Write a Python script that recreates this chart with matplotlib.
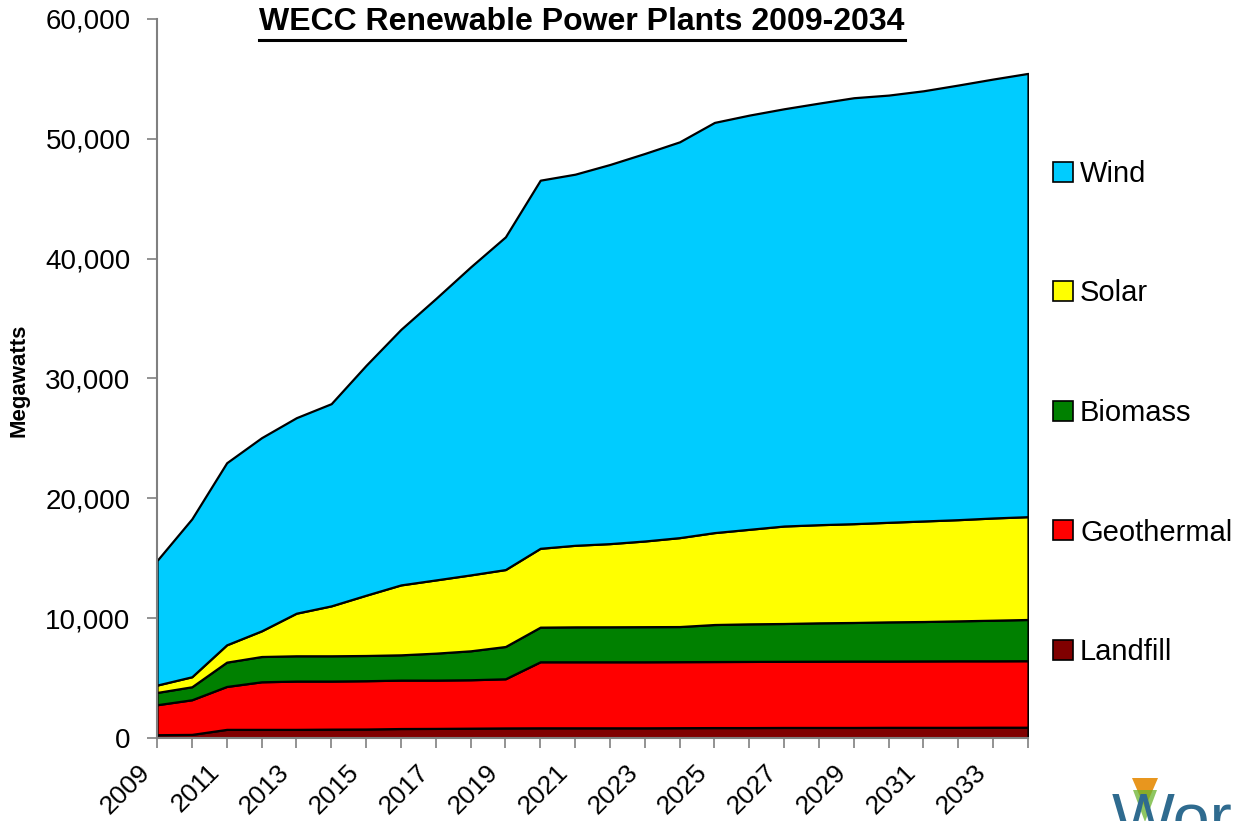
import matplotlib
matplotlib.use('Agg')
import matplotlib.pyplot as plt
from matplotlib.patches import Patch, Polygon
from matplotlib.lines import Line2D
from matplotlib.ticker import StrMethodFormatter
from matplotlib.transforms import ScaledTranslation

plt.rcParams['font.family'] = ['Liberation Sans', 'DejaVu Sans']

years = list(range(2009, 2035))

# megawatts per category
landfill = [275, 300, 720, 720, 720, 740, 750, 790, 800, 820, 840, 850, 850,
            850, 850, 860, 870, 870, 880, 880, 880, 890, 890, 890, 900, 900]
geothermal = [2500, 2890, 3580, 3970, 4030, 4010, 4030, 4040, 4030, 4040, 4100, 5510, 5510,
              5510, 5510, 5510, 5510, 5520, 5520, 5530, 5540, 5530, 5540, 5550, 5540, 5550]
biomass = [1025, 1085, 2030, 2110, 2110, 2110, 2105, 2110, 2250, 2415, 2695, 2890, 2915,
           2920, 2930, 2930, 3090, 3135, 3155, 3200, 3220, 3270, 3290, 3335, 3390, 3440]
solar = [615, 835, 1445, 2140, 3555, 4165, 5030, 5835, 6110, 6335, 6420, 6580, 6805,
         6940, 7150, 7420, 7670, 7890, 8135, 8190, 8245, 8310, 8390, 8445, 8530, 8580]
wind = [10395, 13180, 15195, 16120, 16315, 16875, 19185, 21325, 23480, 25700, 27765, 30720, 30970,
        31640, 32340, 33030, 34230, 34565, 34820, 35180, 35545, 35650, 35900, 36270, 36630, 36990]

names = ['Landfill', 'Geothermal', 'Biomass', 'Solar', 'Wind']
colors = ['#800000', '#FF0000', '#008000', '#FFFF00', '#00CCFF']

W, H = 1235, 821
fig = plt.figure(figsize=(W / 100, H / 100), dpi=100)
ax = fig.add_axes([157 / W, 1 - 738 / H, (1028 - 157) / W, (738 - 19) / H])

ax.stackplot(years, landfill, geothermal, biomass, solar, wind,
             colors=colors, edgecolor='black', linewidth=1.6)

ax.set_xlim(2009, 2034)
ax.set_ylim(0, 60000)
ax.set_yticks(range(0, 60001, 10000))
ax.yaxis.set_major_formatter(StrMethodFormatter('{x:,.0f}'))
ax.set_xticks(years)
ax.set_xticklabels([str(y) if (y - 2009) % 2 == 0 else '' for y in years],
                   rotation=45, ha='right', va='center', rotation_mode='anchor')

for s in ['top', 'right']:
    ax.spines[s].set_visible(False)
for s in ['left', 'bottom']:
    ax.spines[s].set_color('#808080')
    ax.spines[s].set_linewidth(1.5)
ax.tick_params(axis='both', direction='out', length=7, width=1.2, color='#808080',
               labelsize=20, labelcolor='black')
ax.tick_params(axis='x', pad=2, labelsize=19)
ax.tick_params(axis='y', pad=12)

# excel puts the slanted year labels a bit lower and left of the tick
shift = ScaledTranslation(-0.11, -0.18, fig.dpi_scale_trans)
for tick in ax.xaxis.get_major_ticks():
    tick.label1.set_transform(tick.label1.get_transform() + shift)

fig.text(19 / W, 1 - 380 / H, 'Megawatts', rotation=90, ha='center', va='center',
         fontsize=16, fontweight='bold')

title = fig.text(582 / W, 1 - 22 / H, 'WECC Renewable Power Plants 2009-2034',
                 ha='center', va='center', fontsize=23, fontweight='bold')
fig.canvas.draw()
bb = title.get_window_extent().transformed(fig.transFigure.inverted())
fig.add_artist(Line2D([bb.x0, bb.x1], [1 - 40 / H, 1 - 40 / H], color='black',
                      linewidth=2.2, transform=fig.transFigure))

handles = [Patch(facecolor=c, edgecolor='black', linewidth=1.2) for c in colors]
ax.legend(handles[::-1], names[::-1], loc='center left',
          bbox_to_anchor=(1053 / W, 1 - 413 / H), bbox_transform=fig.transFigure,
          frameon=False, fontsize=21, handlelength=0.68, handleheight=0.68,
          handletextpad=0.25, labelspacing=3.14, borderpad=0, borderaxespad=0)

# corner logo, cut off by the bottom edge
fig.add_artist(Polygon([[1132 / W, 1 - 778 / H], [1158 / W, 1 - 778 / H], [1145 / W, 1 - 808 / H]],
                       closed=True, facecolor='#E8961E', edgecolor='none', transform=fig.transFigure))
fig.add_artist(Polygon([[1133 / W, 1 - 790 / H], [1157 / W, 1 - 790 / H], [1145 / W, 1 - 822 / H]],
                       closed=True, facecolor='#6AB42D', edgecolor='none', alpha=0.75,
                       transform=fig.transFigure))
fig.text(1112 / W, 1 - 839 / H, 'Wor', ha='left', va='baseline', fontsize=48,
         color='#2F6B8F')

fig.savefig('out.png', dpi=100)
